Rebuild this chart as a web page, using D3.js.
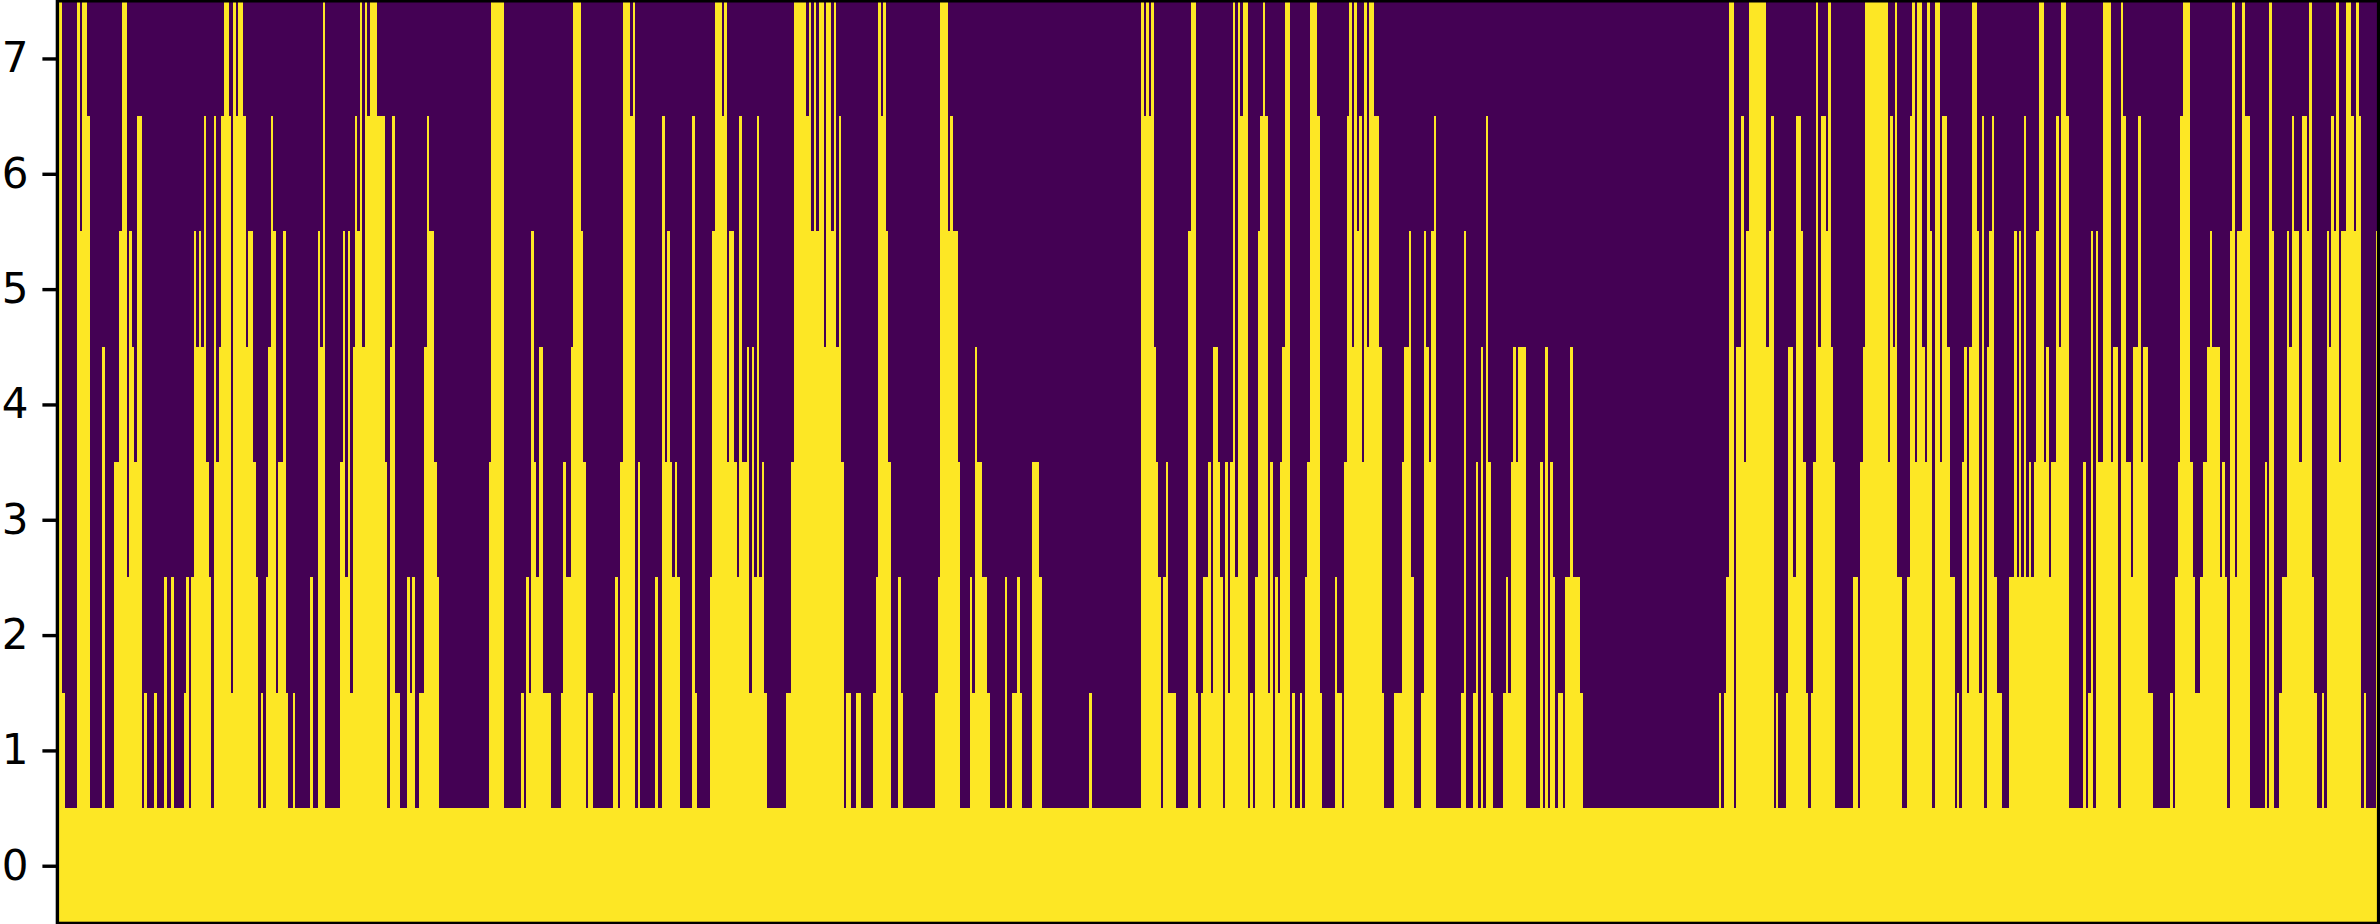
<!DOCTYPE html>
<html>
<head>
<meta charset="utf-8">
<style>html,body{margin:0;padding:0;background:#fff}svg{display:block}</style>
<script src="https://cdn.jsdelivr.net/npm/d3@7"></script>
</head>
<body>
<svg id="chart" width="2380" height="924"></svg>
<script>
const columnCount = 936;
const yTickLabels = [0, 1, 2, 3, 4, 5, 6, 7];
const offValue = "#440154";
const onValue = "#fde725";

// Each pair of arrays: the column where a run begins, and how many rows are "on" in that run.
const startsA = [0,2,3,8,9,10,12,13,18,19,23,25,26,28,29,30,31,32,34,35,36,39,40,43,44,46,47,51,52,53,54,55,56,57,58,59,60,61,62,63,64,65,66,67,69,70,71,72,73,75,76,77,79,80,81,82,83,84,85,86,87,88,89,91,92,93,95,96,102,103,105,106,107,108];
const heightsA = [8,2,1,8,6,8,7,1,5,1,4,6,8,3,6,5,4,7,1,2,1,2,1,3,1,3,1,2,3,1,3,6,5,6,5,7,4,3,1,7,4,5,7,8,7,2,8,7,8,7,5,6,4,3,1,2,1,3,5,7,6,2,4,6,2,1,2,1,3,1,6,5,8,1];
const startsB = [114,115,116,117,118,119,120,121,122,123,124,125,126,129,132,133,134,135,136,138,141,142,143,144,146,148,149,150,152,153,154,174,175,180,187,188,189,190,191,192,193,194,196,199,203,204,205,207,208,211,212,213,214,216,224,225,226,227,228,231,232,233,234];
const heightsB = [4,6,3,6,2,5,7,6,8,5,8,7,8,7,4,1,5,7,2,1,3,2,3,1,2,5,7,6,4,3,1,4,8,1,2,1,3,2,6,4,3,5,2,1,2,4,3,5,8,6,4,1,2,1,2,3,1,4,8,7,8,1,4];
const startsC = [235,241,242,244,245,246,247,248,249,250,251,256,257,258,263,264,265,268,269,270,271,273,274,275,276,278,279,280,281,282,283,284,285,286,294,296,297,302,303,304,305,306,307,309,310,312,313,314,315,316,317,318,320,322,324,329,330,331,332,333,334,335,336,339,340,341,354,355];
const heightsC = [1,3,1,7,4,6,4,3,4,3,1,7,2,1,3,6,8,7,8,4,6,4,3,7,4,5,2,5,3,7,3,4,2,1,2,4,8,7,8,6,8,6,8,5,8,6,8,5,7,4,1,2,1,2,1,2,3,8,7,8,6,4,1,3,2,1,2,3];
const startsD = [356,359,360,361,363,364,368,369,370,371,373,375,376,382,383,385,387,388,389,393,396,397,416,417,437,438,439,440,441,442,443,444,445,446,447,448,451,456,457,459,460,461,462,464,465,466,468,469,470,471,472,473,474,475,476];
const heightsD = [8,6,7,6,4,1,3,2,5,4,3,2,1,3,1,2,3,2,1,4,3,1,2,1,8,7,8,7,8,5,4,3,1,3,4,2,1,6,8,2,1,2,3,4,2,5,4,3,1,4,2,4,8,3,8];
const startsE = [477,478,480,481,482,483,484,485,486,487,488,489,490,491,492,493,494,495,497,498,499,501,502,503,504,505,508,509,510,515,516,518,519,520,521,522,523,524,525,526,527,528,529,531,533,534,535,539,542,543,545,546,547,550,551,552,553,554,555,556,566,567,568,571,572,573,574,575,576,577,578,579,583,584,585,586,587,588,589,592];
const heightsE = [7,8,1,2,1,3,6,7,8,7,2,4,1,3,2,4,5,8,1,2,1,2,1,3,4,8,7,2,1,3,2,1,4,7,8,5,8,6,7,4,8,5,8,7,5,2,1,2,4,5,6,3,1,2,6,5,4,6,7,1,2,6,1,2,4,1,5,1,7,4,2,1,2,3,2,4,5,4,5,1];
const startsF = [598,599,600,601,602,603,604,605,607,608,610,611,614,615,670,671,672,673,674,676,677,679,680,681,682,689,690,691,692,693,694,697,698,700,701,703,704,705,706,707,708,709,710,711,713,714,715,716,717];
const heightsF = [4,1,5,1,4,3,1,2,1,3,5,3,2,1,2,1,2,3,8,1,5,7,4,6,8,5,6,7,1,2,1,2,5,3,7,6,4,2,1,2,4,8,5,7,6,8,5,4,1];
const startsG = [724,726,727,728,729,738,739,740,741,742,744,746,747,748,749,750,752,753,754,755,756,757,759,760,762,763,765,766,767,768,769,770,771,772,774,775,776,777,778,779,780,781,782,784,787,789,790,791,792,793,794,795,796,797,798,799,801,802,803,804,806,807,808,810,811,817,818,819,820,821,822,823,825];
const heightsG = [3,1,4,5,8,4,7,5,8,3,1,3,7,8,4,8,5,4,8,6,1,8,4,7,5,3,1,2,1,4,5,2,5,8,6,2,7,1,5,6,7,3,2,1,3,6,3,6,3,7,3,4,3,4,6,8,4,5,3,4,7,5,8,7,1,4,1,2,6,1,6,4,8];
const startsH = [828,829,831,832,833,834,836,837,839,840,841,843,845,852,853,854,855,856,857,860,861,862,864,865,867,868,869,872,873,874,875,876,877,878,879,881,882,884,890,891,892,893,894,896,897,899,900,901,902,904,905,907,908,909,910,911,913,914,915,916,917,918,919,920,921,923,925,926,927,928,929,930,931,935];
const heightsH = [4,5,1,8,7,4,3,5,7,4,5,2,1,2,1,3,4,7,8,4,3,2,3,4,5,6,5,3,4,3,1,6,8,3,6,8,7,1,4,1,8,6,1,2,3,6,5,7,6,4,7,6,8,3,2,1,2,1,6,5,7,6,8,4,6,8,7,6,8,7,1,2,1,6];

const runStarts = [].concat(startsA, startsB, startsC, startsD, startsE, startsF, startsG, startsH);
const runHeights = [].concat(heightsA, heightsB, heightsC, heightsD, heightsE, heightsF, heightsG, heightsH);

const plot = { left: 57.4, right: 2378.6, top: 0.8, bottom: 923.4 };
const svg = d3.select("#chart");
const x = d3.scaleLinear().domain([0, columnCount]).range([plot.left, plot.right]);
const y = d3.scaleLinear().domain([-0.5, 7.5]).range([plot.bottom, plot.top]);

const runs = runStarts.map((s, i) => ({
  start: s,
  end: i + 1 < runStarts.length ? runStarts[i + 1] : columnCount,
  height: runHeights[i]
}));

svg.append("rect")
  .attr("x", x(0)).attr("y", y(7.5))
  .attr("width", x(columnCount) - x(0)).attr("height", y(-0.5) - y(7.5))
  .attr("fill", offValue);

svg.append("g").attr("shape-rendering", "crispEdges")
  .selectAll("rect").data(runs).join("rect")
  .attr("x", d => x(d.start))
  .attr("width", d => x(d.end) - x(d.start))
  .attr("y", d => y(d.height - 0.5))
  .attr("height", d => y(-0.5) - y(d.height - 0.5))
  .attr("fill", onValue);

const axis = d3.axisLeft(y).tickValues(yTickLabels).tickSize(15).tickPadding(14).tickFormat(d3.format("d"));
const g = svg.append("g").attr("transform", `translate(${plot.left},0)`).call(axis);
g.select(".domain").remove();
g.selectAll("line").attr("stroke", "#000").attr("stroke-width", 3.4);
g.selectAll("text").attr("fill", "#000").style("font-family", "'DejaVu Sans'").style("font-size", "42px");

svg.append("rect")
  .attr("x", x(0)).attr("y", y(7.5))
  .attr("width", x(columnCount) - x(0)).attr("height", y(-0.5) - y(7.5))
  .attr("fill", "none").attr("stroke", "#000").attr("stroke-width", 3.4);

if (runStarts.length !== runHeights.length) console.error("length mismatch", runStarts.length, runHeights.length);
</script>
</body>
</html>
